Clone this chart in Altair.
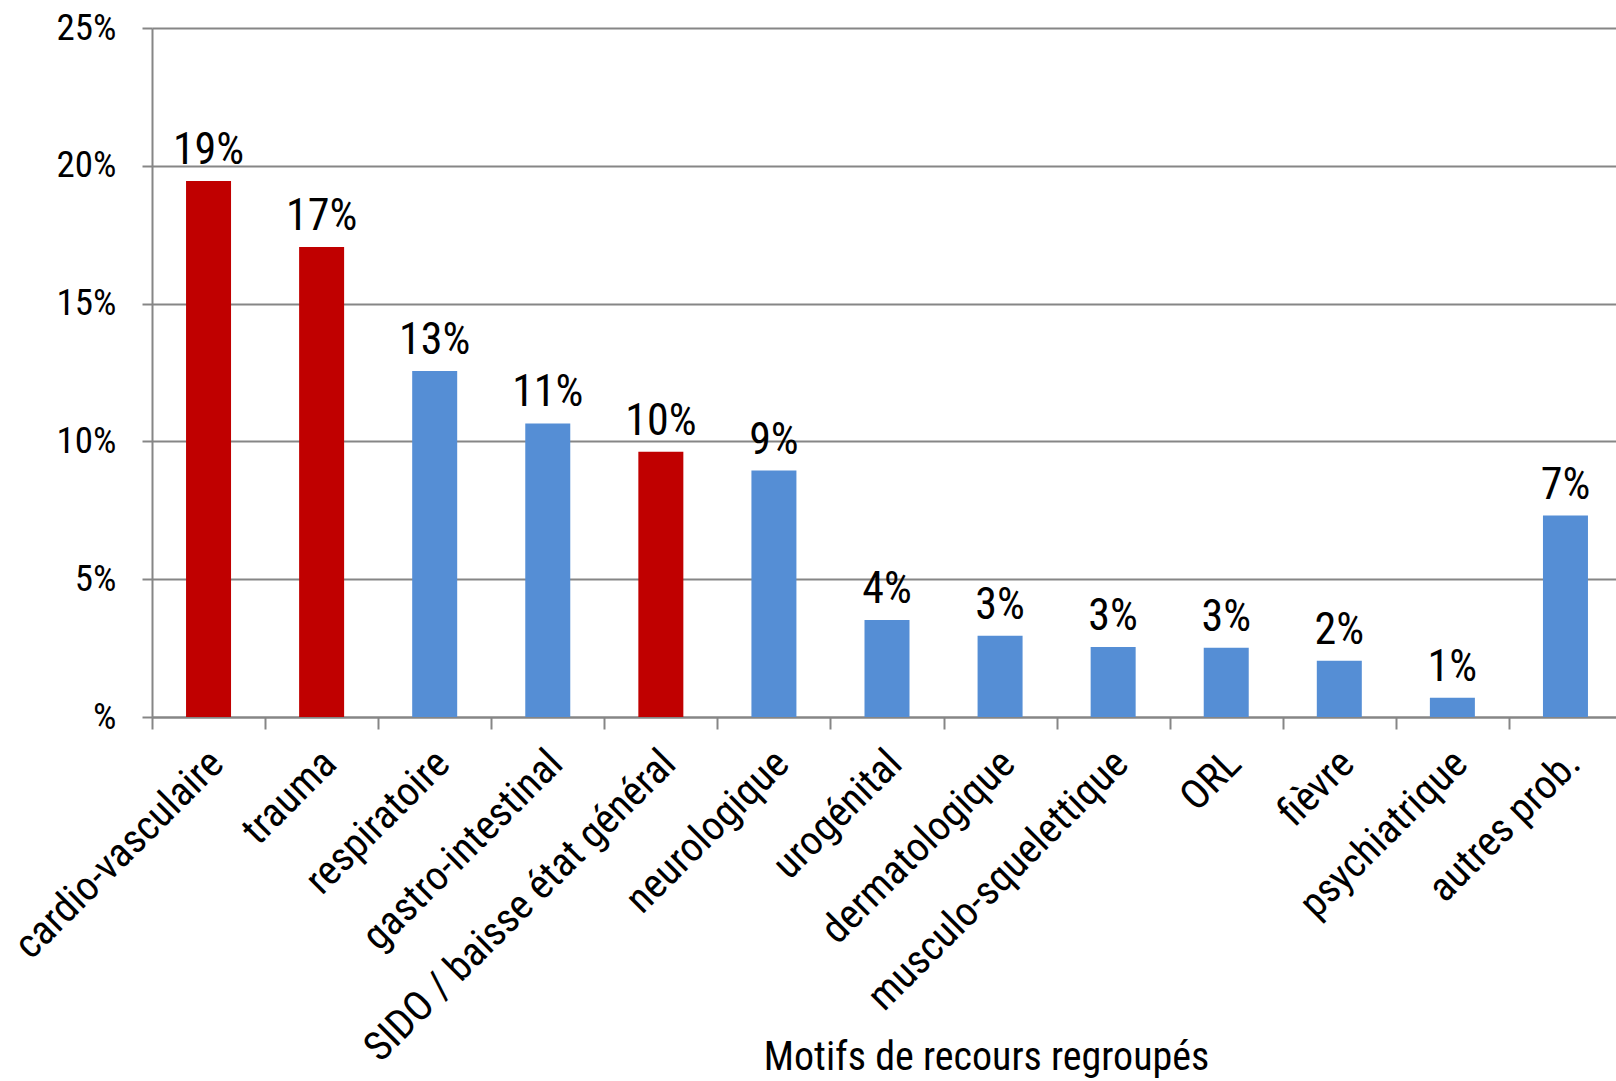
import altair as alt
import pandas as pd

# Grouped reasons for consultation and their share of all visits
motifs = [
    "cardio-vasculaire", "trauma", "respiratoire", "gastro-intestinal",
    "SIDO / baisse état général", "neurologique", "urogénital",
    "dermatologique", "musculo-squelettique", "ORL", "fièvre",
    "psychiatrique", "autres prob.",
]
parts = [0.1945, 0.1705, 0.1255, 0.1065, 0.0962, 0.0894, 0.0352,
         0.0295, 0.0254, 0.0251, 0.0204, 0.0070, 0.0731]
# Reasons highlighted in red
mis_en_avant = [True, True, False, False, True, False, False,
                False, False, False, False, False, False]

df = pd.DataFrame({"motif": motifs, "part": parts, "groupe": mis_en_avant})

FONT = "Roboto Condensed, Liberation Sans Narrow, Arial Narrow, sans-serif"
GRIS = "#868686"

x_enc = alt.X(
    "motif:N",
    sort=motifs,
    scale=alt.Scale(range=[0, 1470], paddingInner=0, paddingOuter=0),
    axis=alt.Axis(
        title="Motifs de recours regroupés",
        titleFont=FONT, titleFontSize=40, titleFontWeight="normal",
        titleColor="black", titleX=834, titleY=352,
        titleAlign="center", titleBaseline="alphabetic",
        labelFont=FONT, labelFontSize=41, labelColor="black",
        labelAngle=-45, labelPadding=14, labelOffset=-6,
        labelOverlap=False, labelLimit=0,
        domainColor=GRIS, domainWidth=2,
        tickColor=GRIS, tickWidth=2, tickSize=12, tickBand="extent",
        grid=False,
    ),
)

y_enc = alt.Y(
    "part:Q",
    scale=alt.Scale(domain=[0, 0.25], nice=False),
    axis=alt.Axis(
        title=None,
        values=[0, 0.05, 0.10, 0.15, 0.20, 0.25],
        labelExpr="datum.value == 0 ? '%' : format(datum.value, '.0%')",
        labelFont=FONT, labelFontSize=37, labelColor="black",
        labelPadding=26,
        domainColor=GRIS, domainWidth=2,
        tickColor=GRIS, tickWidth=2, tickSize=10,
        grid=True, gridColor=GRIS, gridWidth=2,
    ),
)

barres = alt.Chart(df).mark_bar(size=45).encode(
    x=x_enc,
    y=y_enc,
    color=alt.Color(
        "groupe:N",
        scale=alt.Scale(domain=[True, False], range=["#C00000", "#558ED5"]),
        legend=None,
    ),
)

etiquettes = alt.Chart(df).mark_text(
    font=FONT, fontSize=44, color="black", baseline="alphabetic", dy=-17
).encode(
    x=alt.X("motif:N", sort=motifs),
    y="part:Q",
    text=alt.Text("part:Q", format=".0%"),
)

chart = (
    alt.layer(barres, etiquettes)
    .properties(
        width=1464,
        height=689,
        autosize=alt.AutoSizeParams(type="none"),
        padding={"left": 152, "top": 28, "right": 0, "bottom": 361},
    )
    .configure_view(stroke=None)
)

chart.save("out.html", embed_options={"renderer": "svg", "actions": False})
